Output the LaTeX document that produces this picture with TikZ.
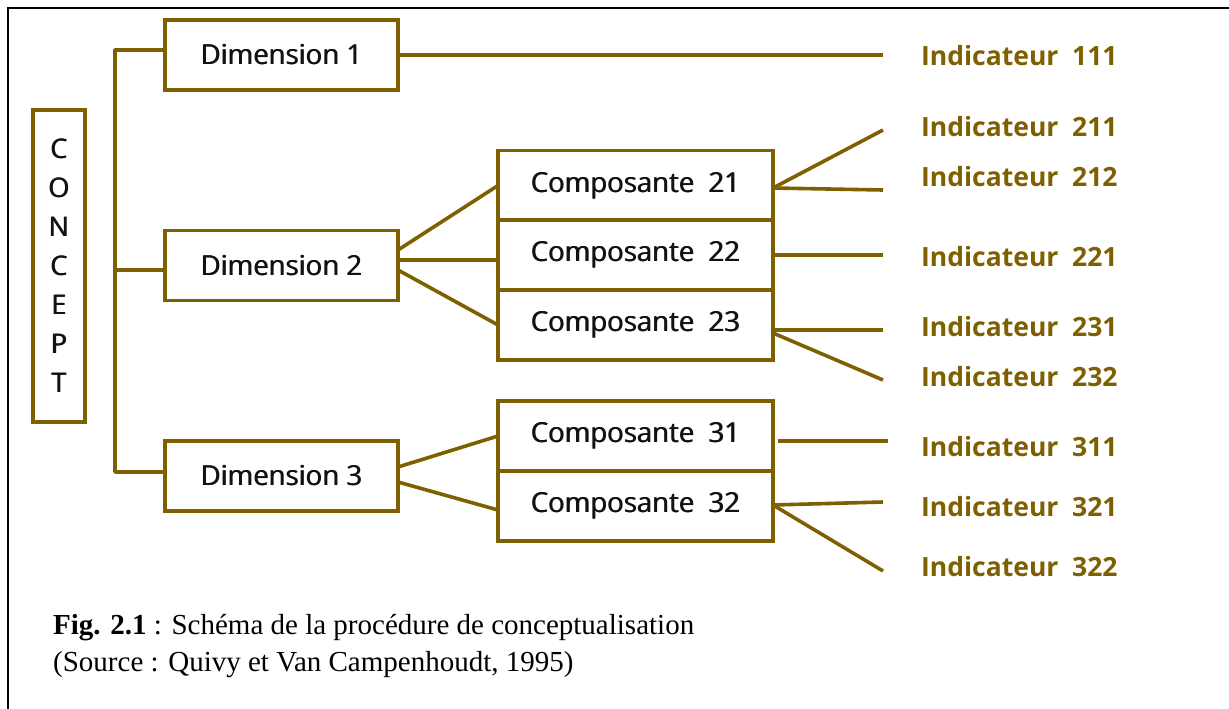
\documentclass[tikz,border=0pt]{standalone}
\usepackage{fontspec}
\setmainfont{Liberation Serif}
\newfontfamily\boxfont{Open Sans}
\newfontfamily\indicfont{Open Sans}
% box labels are set twice with a small offset for a semibold look
\newcommand\heavy[1]{\rlap{#1}\kern0.8pt#1}
\usetikzlibrary{calc}
\definecolor{olive}{HTML}{7F6000}
\definecolor{ink}{HTML}{111116}
\tikzset{
  link/.style={draw=olive, line width=3.6pt, line join=round},
  box/.style={draw=olive, line width=3.6pt, fill=white, text=ink,
    font=\boxfont\fontsize{27.5}{32}\selectfont, inner sep=0pt, outer sep=0pt},
  dimbox/.style={box, minimum width=233pt, minimum height=70pt},
  compbox/.style={box, minimum width=275pt, minimum height=70pt},
  indic/.style={anchor=west, inner sep=0pt, text=olive,
    font=\indicfont\bfseries\fontsize{26.5}{30}\selectfont},
  caption/.style={anchor=west, inner sep=0pt, text=black,
    font=\fontsize{29}{34}\selectfont},
}
\begin{document}
\begin{tikzpicture}[x=1pt, y=-1pt]
\useasboundingbox (0,0) rectangle (1229,709);
% frame
\draw[line width=2.2pt, black] (8,720) -- (8,8) -- (1240,8);

% concept column
\node[box, minimum width=52pt, minimum height=312pt, align=center,
  font=\boxfont\fontsize{27}{39}\selectfont] (concept) at (59,266)
  {\heavy{C}\\\heavy{O}\\\heavy{N}\\\heavy{C}\\\heavy{E}\\\heavy{P}\\\heavy{T}};

% dimensions
\node[dimbox] (dim1) at (281.5,55) {\heavy{Dimension 1}};
\node[dimbox] (dim2) at (281.5,265.5) {\heavy{Dimension 2}};
\node[dimbox] (dim3) at (281.5,476) {\heavy{Dimension 3}};

% components
\node[compbox] (c21) at (635.5,185.5) {\heavy{Composante\ \ 21}};
\node[compbox] (c22) at (635.5,255) {\heavy{Composante\ \ 22}};
\node[compbox] (c23) at (635.5,325) {\heavy{Composante\ \ 23}};
\node[compbox] (c31) at (635.5,436) {\heavy{Composante\ \ 31}};
\node[compbox] (c32) at (635.5,506) {\heavy{Composante\ \ 32}};

% indicators
\node[indic] (i111) at (921,56) {Indicateur\ \ 111};
\node[indic] (i211) at (921,127) {Indicateur\ \ 211};
\node[indic] (i212) at (921,177) {Indicateur\ \ 212};
\node[indic] (i221) at (921,257) {Indicateur\ \ 221};
\node[indic] (i231) at (921,327) {Indicateur\ \ 231};
\node[indic] (i232) at (921,377) {Indicateur\ \ 232};
\node[indic] (i311) at (921,447) {Indicateur\ \ 311};
\node[indic] (i321) at (921,507) {Indicateur\ \ 321};
\node[indic] (i322) at (921,567) {Indicateur\ \ 322};

% trunk from the concept to the dimensions
\coordinate (tTop) at (115,50);
\coordinate (tBot) at (115,472);
\coordinate (d2in) at ([yshift=-4.5pt]dim2.west);
\draw[link] ([yshift=5pt]dim1.west) -- (tTop) -- (tBot) -- ([yshift=4pt]dim3.west);
\draw[link] (d2in) -- (d2in -| tTop);

% dimensions to components
\draw[link] ([yshift=15.5pt]dim2.east) -- (c21.west);
\draw[link] ([yshift=5.5pt]dim2.east) -- ([yshift=-5pt]c22.west);
\draw[link] ([yshift=-4.5pt]dim2.east) -- (c23.west);
\draw[link] ([yshift=9pt]dim3.east) -- (c31.west);
\draw[link] ([yshift=-6pt]dim3.east) -- ([yshift=-4pt]c32.west);

% line ends in front of the indicators
\coordinate (e111) at (883,55);
\coordinate (e211) at (883,130);
\coordinate (e212) at (883,190);
\coordinate (e221) at (883,255);
\coordinate (e231) at (883,330);
\coordinate (e232) at (883,380);
\coordinate (e311) at (888,441);
\coordinate (e321) at (883,502);
\coordinate (e322) at (883,571);

% dimensions and components to indicators
\draw[link] (dim1.east) -- (e111);
\draw[link] ([yshift=-2.5pt]c21.east) -- (e211);
\draw[link] ([yshift=-2.5pt]c21.east) -- (e212);
\draw[link] (c22.east) -- (e221);
\draw[link] ([yshift=-5pt]c23.east) -- (e231);
\draw[link] ([yshift=-8pt]c23.east) -- (e232);
\draw[link] ([xshift=5pt, yshift=-5pt]c31.east) -- (e311);
\draw[link] ([yshift=1pt]c32.east) -- (e321);
\draw[link] ([yshift=1pt]c32.east) -- (e322);

% caption
\node[caption] (cap1) at (53,628) {\textbf{Fig. 2.1} : Schéma de la procédure de conceptualisation};
\node[caption] (cap2) at (53,665) {(Source : Quivy et Van Campenhoudt, 1995)};
\end{tikzpicture}
\end{document}
